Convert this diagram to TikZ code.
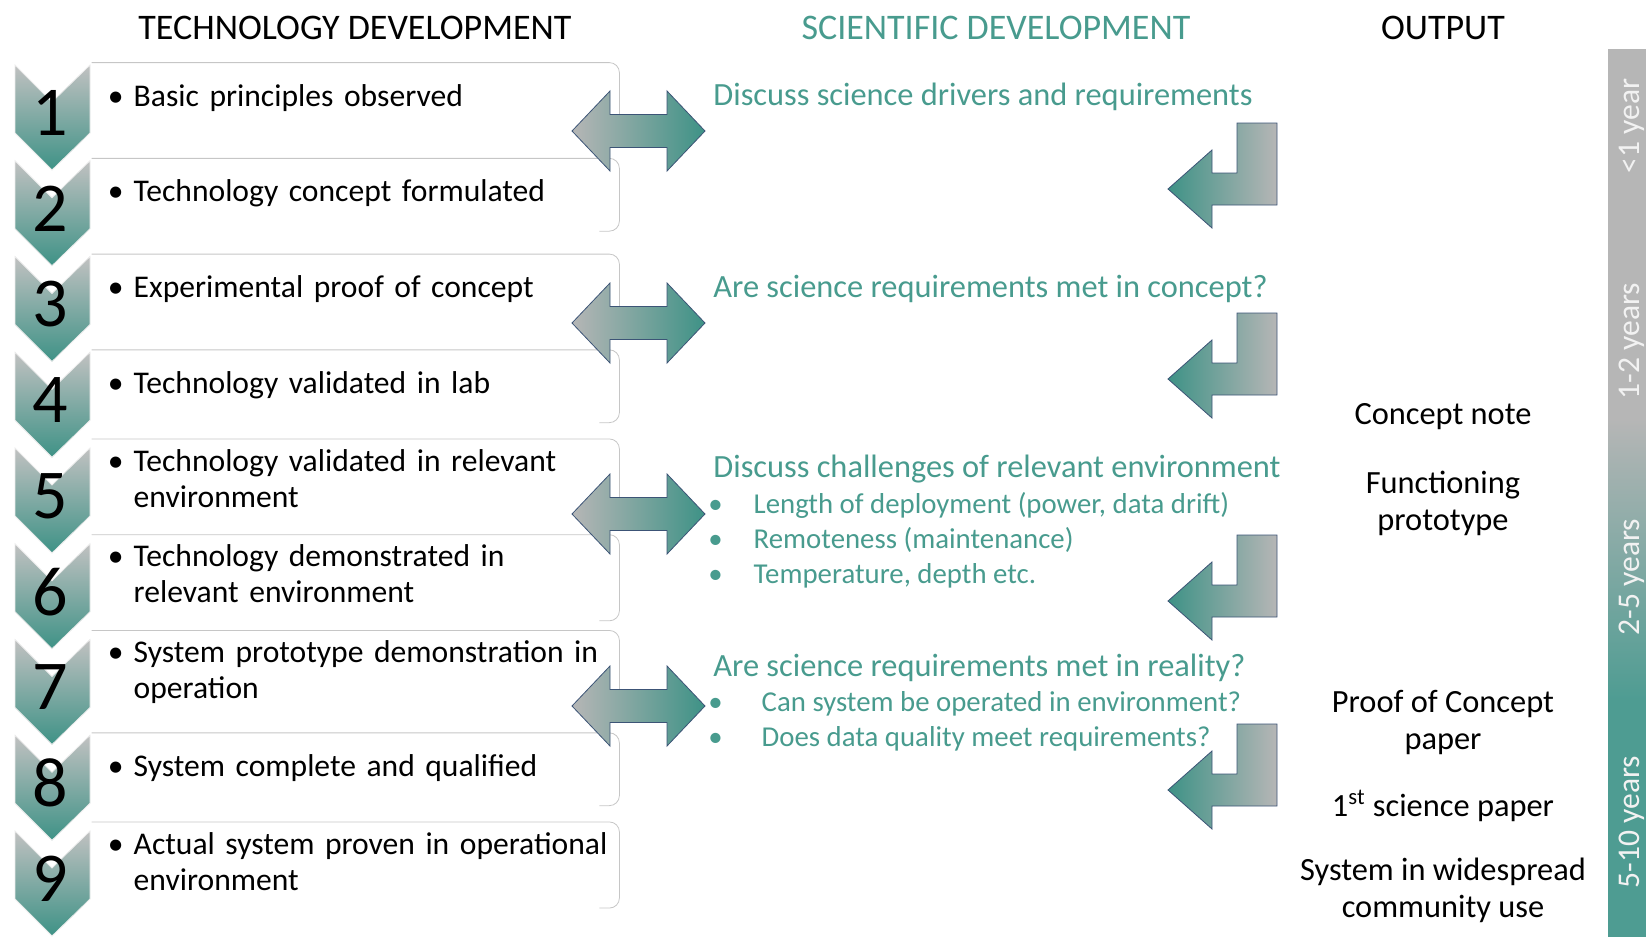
\documentclass[tikz,border=0pt]{standalone}
\usepackage{fontspec}
\setmainfont{Carlito}
\usetikzlibrary{positioning}
\definecolor{trlteal}{RGB}{62,146,134}
\definecolor{barteal}{RGB}{78,156,146}
\definecolor{scitext}{RGB}{72,155,142}
\definecolor{trlgray}{RGB}{182,182,182}
\definecolor{arredge}{RGB}{60,84,118}
\newcommand{\hdfont}{\fontsize{18}{21}\selectfont}
\newcommand{\tbfont}{\fontsize{15.8}{18}\selectfont}
\newcommand{\scifont}{\fontsize{16.2}{19}\selectfont}
\newcommand{\subfont}{\fontsize{14.4}{17.5}\selectfont}
\newcommand{\outfont}{\fontsize{16.2}{18.6}\selectfont}
\newcommand{\numfont}{\fontsize{35}{35}\selectfont}
% bullet with the rest of the lines hanging under the first
\newcommand{\itm}[1]{\mbox{\hspace*{-2.6pt}\textbullet\hspace{5.1pt}\begin{tabular}[t]{@{}l@{}}#1\end{tabular}}}
% block arrows, centre / top-right corner given in pixels
\newcommand{\dblarr}[2]{\draw[dbl] (#1-66.5,#2) -- ++(38,-40) -- ++(0,23.5) -- ++(57,0) -- ++(0,-23.5) -- ++(38,40) -- ++(-38,40) -- ++(0,-23.5) -- ++(-57,0) -- ++(0,23.5) -- cycle;}
\newcommand{\bentarr}[2]{\draw[bent] (#1,#2) -- ++(0,82) -- ++(-65,0) -- ++(0,23) -- ++(-44,-39) -- ++(44,-39) -- ++(0,23) -- ++(25,0) -- ++(0,-50) -- cycle;}
\tikzset{
  chev/.style={top color=trlgray!85, bottom color=trlteal, draw=white!85!gray, thin},
  tbox/.style={minimum width=263.5pt, minimum height=36pt, inner xsep=10.5pt, text width=242.5pt, align=left, font=\tbfont},
  boxedge/.style={draw=gray!45, thin, rounded corners=5pt},
  sci/.style={text=scitext, font=\scifont, inner sep=0pt},
  sublist/.style={text=scitext, font=\subfont, inner sep=0pt},
  outp/.style={align=center, font=\outfont},
  yrs/.style={rotate=90, font=\tbfont, text=white!90!gray},
  dbl/.style={draw=arredge, left color=trlgray, right color=trlteal, thin, line join=miter},
  bent/.style={draw=arredge, left color=trlteal, right color=trlgray, thin, line join=miter},
}
\begin{document}
\begin{tikzpicture}[x=0.5pt,y=-0.5pt]
  \useasboundingbox (0,0) rectangle (1646,937);
  % column titles
  \node[font=\hdfont] (th) at (355,28) {TECHNOLOGY DEVELOPMENT};
  \node[font=\hdfont, text=scitext] (sh) at (996,28) {SCIENTIFIC DEVELOPMENT};
  \node[font=\hdfont] (oh) at (1443,28) {OUTPUT};

  % readiness levels
  \node[tbox] (b1) at (355.5,99) {\itm{Basic principles observed}};
  \node[tbox] (b2) at (355.5,194.75) {\itm{Technology concept formulated}};
  \node[tbox] (b3) at (355.5,290.5) {\itm{Experimental proof of concept}};
  \node[tbox] (b4) at (355.5,386.25) {\itm{Technology validated in lab}};
  \node[tbox] (b5) at (355.5,482) {\itm{Technology validated in relevant\\environment}};
  \node[tbox] (b6) at (355.5,577.75) {\itm{Technology demonstrated in\\relevant environment}};
  \node[tbox] (b7) at (355.5,673.5) {\itm{System prototype demonstration in\\operation}};
  \node[tbox] (b8) at (355.5,769.25) {\itm{System complete and qualified}};
  \node[tbox] (b9) at (355.5,865) {\itm{Actual system proven in operational\\environment}};
  \foreach \i in {1,...,9}
    \draw[boxedge] (b\i.north west) -- (b\i.north east) -- (b\i.south east) -- ([xshift=-10pt]b\i.south east);

  % numbered chevrons
  \foreach \i in {1,...,9} {
    \pgfmathsetmacro\yt{65+95.75*(\i-1)}
    \draw[chev] (15,\yt) -- (52,\yt+37) -- (90,\yt) -- (90,\yt+68) -- (52,\yt+105) -- (15,\yt+68) -- cycle;
    \node[font=\numfont, inner sep=0pt] (n\i) at (50,\yt+48) {\i};
  }

  % science questions
  \node[sci, anchor=west] (s1) at (713,97) {Discuss science drivers and requirements};
  \node[sci, anchor=west] (s2) at (713,289) {Are science requirements met in concept?};
  \node[sci, anchor=west] (s3) at (713,469) {Discuss challenges of relevant environment};
  \node[sublist, anchor=west] (l3) at (708,541) {\begin{tabular}{@{}l@{\hspace{15.5pt}}l@{}}
    \textbullet & Length of deployment (power, data drift)\\
    \textbullet & Remoteness (maintenance)\\
    \textbullet & Temperature, depth etc.
  \end{tabular}};
  \node[sci, anchor=west] (s4) at (713,668) {Are science requirements met in reality?};
  \node[sublist, anchor=west] (l4) at (708,721.5) {\begin{tabular}{@{}l@{\hspace{19.5pt}}l@{}}
    \textbullet & Can system be operated in environment?\\
    \textbullet & Does data quality meet requirements?
  \end{tabular}};

  % block arrows
  \dblarr{638.5}{131}
  \dblarr{638.5}{323}
  \dblarr{638.5}{514}
  \dblarr{638.5}{706}
  \bentarr{1277}{123}
  \bentarr{1277}{313}
  \bentarr{1277}{535}
  \bentarr{1277}{724}

  % outputs
  \node[outp] (o1) at (1443,417) {Concept note};
  \node[outp] (o2) at (1443,503.5) {Functioning\\prototype};
  \node[outp] (o3) at (1443,722.5) {Proof of Concept\\paper};
  \node[outp] (o4) at (1443,806) {1\textsuperscript{st} science paper};
  \node[outp] (o5) at (1443,890.5) {System in widespread\\community use};

  % time scale
  \fill[trlgray] (1608,49) rectangle (1646,420);
  \shade[top color=trlgray, bottom color=barteal] (1608,419) rectangle (1646,701);
  \fill[barteal] (1608,700) rectangle (1646,937);
  \node[yrs] (t1) at (1632,126) {<1 year};
  \node[yrs] (t2) at (1632,341) {1-2 years};
  \node[yrs] (t3) at (1632,577) {2-5 years};
  \node[yrs] (t4) at (1632,822) {5-10 years};
\end{tikzpicture}
\end{document}
